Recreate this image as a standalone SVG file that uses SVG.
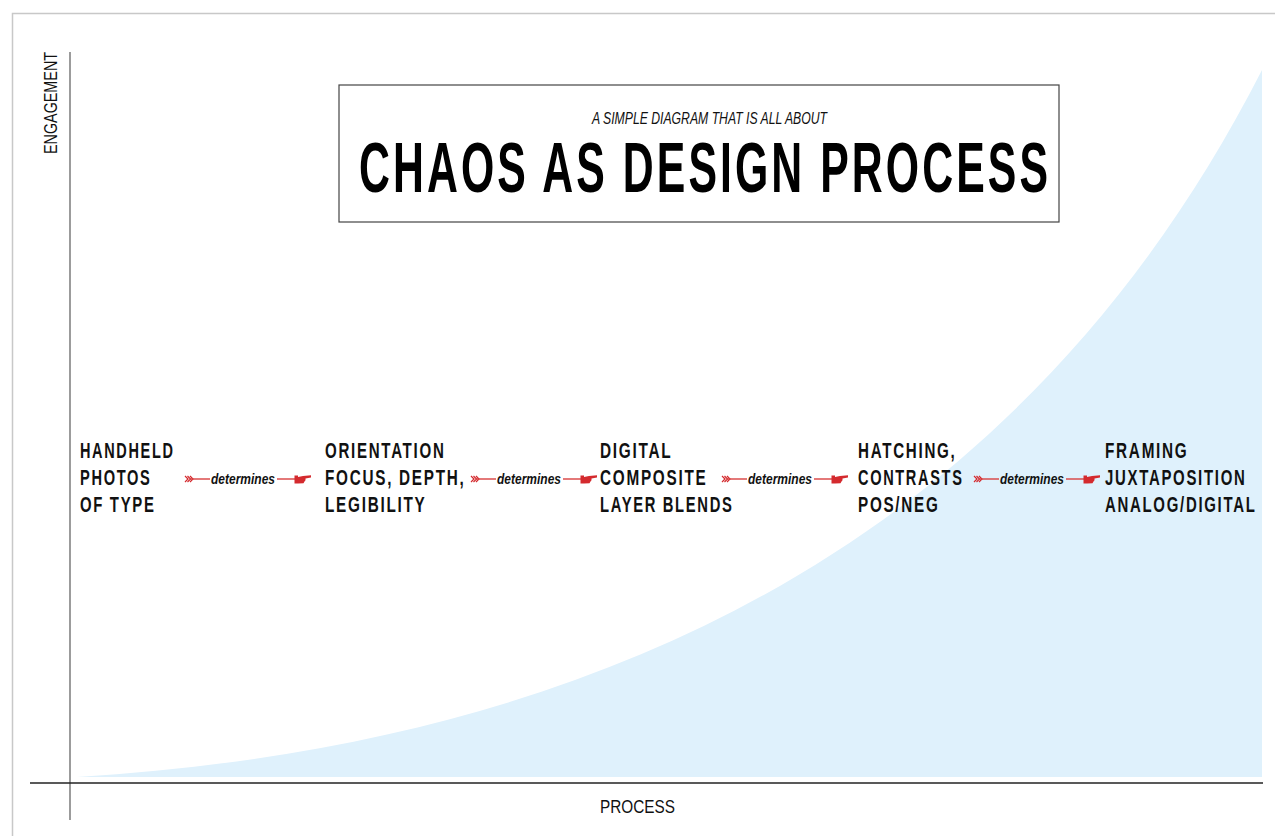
<svg xmlns="http://www.w3.org/2000/svg" width="1275" height="836" viewBox="0 0 1275 836">
<defs>
<style>
.node{font-family:"Liberation Sans",Arial,sans-serif;font-weight:bold;font-size:22px;fill:#111;letter-spacing:2.5px}
.det{font-family:"Liberation Sans",Arial,sans-serif;font-weight:bold;font-style:italic;font-size:15px;fill:#111}
.ax{font-family:"Liberation Sans",Arial,sans-serif;font-size:18px;fill:#111}
.red{fill:#d42a2e}
.rl{stroke:#d94040;stroke-width:1.4;fill:none}
.chev{stroke:#d42a2e;stroke-width:1.2;fill:none}
</style>
<g id="conn-shape">
<path class="chev" d="M185,476 L188,479 L185,482 M187.5,476 L190.5,479 L187.5,482 M190,476 L193,479 L190,482"/>
<line class="rl" x1="190" y1="479" x2="210" y2="479"/>
<line class="rl" x1="277" y1="479" x2="295" y2="479"/>
<rect class="red" x="294.5" y="475.5" width="3.5" height="8"/>
<path class="red" d="M298,477 L303,476 L311,475.3 L311,477.6 L305.5,478.4 L305.5,480.2 L304.5,481.6 L303.5,483.2 L298,483.6 Z"/>
<text class="det" x="211" y="484" textLength="64" lengthAdjust="spacingAndGlyphs">determines</text>
</g>
</defs>

<rect x="12.5" y="13.5" width="1300" height="900" fill="none" stroke="#c8c8c8" stroke-width="1.5"/>

<g id="curve">
<path d="M77,777 C650,742 1040,505 1262,70 L1262,777 Z" fill="#dff1fc"/>
</g>

<g id="axes">
<line x1="70" y1="52" x2="70" y2="820" stroke="#666" stroke-width="1.3"/>
<line x1="30" y1="783" x2="1263" y2="783" stroke="#222" stroke-width="1.6"/>
<text class="ax" transform="translate(57,154) rotate(-90)" textLength="102" lengthAdjust="spacingAndGlyphs">ENGAGEMENT</text>
<text class="ax" x="600" y="813" textLength="75" lengthAdjust="spacingAndGlyphs">PROCESS</text>
</g>

<g id="title">
<rect x="339" y="85" width="720" height="137" fill="#fff" stroke="#444" stroke-width="1.2"/>
<text x="592" y="124" font-family="'Liberation Sans',Arial,sans-serif" font-style="italic" font-size="17" fill="#111" textLength="235" lengthAdjust="spacingAndGlyphs">A SIMPLE DIAGRAM THAT IS ALL ABOUT</text>
<text x="359" y="192" font-family="'Liberation Sans',Arial,sans-serif" font-weight="bold" font-size="70" fill="#000" letter-spacing="5" textLength="692" lengthAdjust="spacingAndGlyphs">CHAOS AS DESIGN PROCESS</text>
</g>

<g id="node1">
<text class="node" x="80" y="458" textLength="94.5" lengthAdjust="spacingAndGlyphs">HANDHELD</text>
<text class="node" x="80" y="485" textLength="71.5" lengthAdjust="spacingAndGlyphs">PHOTOS</text>
<text class="node" x="80" y="512" textLength="75.5" lengthAdjust="spacingAndGlyphs">OF TYPE</text>
</g>
<g id="node2">
<text class="node" x="325" y="458" textLength="120.5" lengthAdjust="spacingAndGlyphs">ORIENTATION</text>
<text class="node" x="325" y="485" textLength="140.5" lengthAdjust="spacingAndGlyphs">FOCUS, DEPTH,</text>
<text class="node" x="325" y="512" textLength="101.5" lengthAdjust="spacingAndGlyphs">LEGIBILITY</text>
</g>
<g id="node3">
<text class="node" x="600" y="458" textLength="72.5" lengthAdjust="spacingAndGlyphs">DIGITAL</text>
<text class="node" x="600" y="485" textLength="107.5" lengthAdjust="spacingAndGlyphs">COMPOSITE</text>
<text class="node" x="600" y="512" textLength="133.5" lengthAdjust="spacingAndGlyphs">LAYER BLENDS</text>
</g>
<g id="node4">
<text class="node" x="858" y="458" textLength="98.5" lengthAdjust="spacingAndGlyphs">HATCHING,</text>
<text class="node" x="858" y="485" textLength="105.5" lengthAdjust="spacingAndGlyphs">CONTRASTS</text>
<text class="node" x="858" y="512" textLength="81.5" lengthAdjust="spacingAndGlyphs">POS/NEG</text>
</g>
<g id="node5">
<text class="node" x="1105" y="458" textLength="83.5" lengthAdjust="spacingAndGlyphs">FRAMING</text>
<text class="node" x="1105" y="485" textLength="141.5" lengthAdjust="spacingAndGlyphs">JUXTAPOSITION</text>
<text class="node" x="1105" y="512" textLength="151.5" lengthAdjust="spacingAndGlyphs">ANALOG/DIGITAL</text>
</g>

<g id="connectors">
<use href="#conn-shape"/>
<use href="#conn-shape" transform="translate(286,0)"/>
<use href="#conn-shape" transform="translate(537,0)"/>
<use href="#conn-shape" transform="translate(789,0)"/>
</g>
</svg>
